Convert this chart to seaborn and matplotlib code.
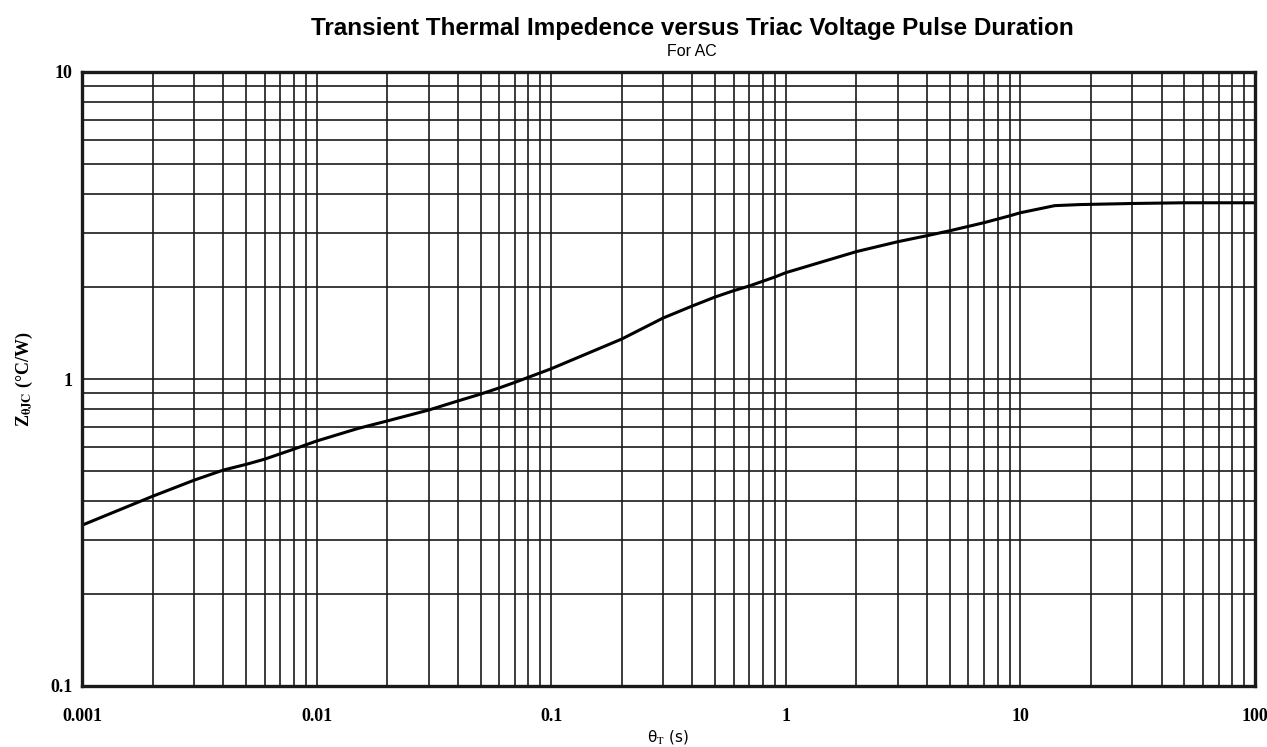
import matplotlib
matplotlib.use("Agg")
import matplotlib.pyplot as plt
import matplotlib.ticker as mticker
import seaborn as sns
import pandas as pd

# pulse duration (s) and thermal impedance (degC/W)
pulse_s = [0.001, 0.002, 0.003, 0.004, 0.005, 0.006, 0.008, 0.01, 0.015, 0.02,
           0.03, 0.04, 0.05, 0.06, 0.07, 0.1, 0.2, 0.3, 0.4, 0.5,
           0.6, 0.7, 0.9, 1, 2, 3, 4, 5, 7, 9,
           10, 14, 18, 30, 50, 100]
z_thjc = [0.334, 0.415, 0.468, 0.505, 0.527, 0.548, 0.591, 0.628, 0.690, 0.730,
          0.792, 0.848, 0.893, 0.935, 0.975, 1.08, 1.35, 1.58, 1.73, 1.85,
          1.94, 2.01, 2.15, 2.22, 2.60, 2.80, 2.93, 3.04, 3.23, 3.40,
          3.48, 3.67, 3.70, 3.73, 3.75, 3.75]

x_ticks = [0.001, 0.01, 0.1, 1, 10, 100]
x_labels = ["0.001", "0.01", "0.1", "1", "10", "100"]
y_ticks = [0.1, 1, 10]
y_labels = ["0.1", "1", "10"]

df = pd.DataFrame({"t": pulse_s, "z": z_thjc})

sns.set_theme(style="white")
plt.rcParams["font.family"] = ["Liberation Sans", "DejaVu Sans"]
plt.rcParams["mathtext.fontset"] = "stix"
plt.rcParams["text.color"] = "black"
plt.rcParams["axes.labelcolor"] = "black"
plt.rcParams["xtick.color"] = "black"
plt.rcParams["ytick.color"] = "black"

fig = plt.figure(figsize=(12.67, 7.47), dpi=100)
ax = fig.add_axes([82 / 1267, 1 - 686 / 747, (1255 - 82) / 1267, (686 - 72) / 747])

sns.lineplot(data=df, x="t", y="z", color="black", linewidth=2.2, ax=ax)

ax.set_xscale("log")
ax.set_yscale("log")
ax.set_xlim(0.001, 100)
ax.set_ylim(0.1, 10)

ax.xaxis.set_major_locator(mticker.FixedLocator(x_ticks))
ax.xaxis.set_major_formatter(mticker.FixedFormatter(x_labels))
ax.yaxis.set_major_locator(mticker.FixedLocator(y_ticks))
ax.yaxis.set_major_formatter(mticker.FixedFormatter(y_labels))
ax.xaxis.set_minor_locator(mticker.LogLocator(base=10, subs=range(2, 10)))
ax.yaxis.set_minor_locator(mticker.LogLocator(base=10, subs=range(2, 10)))
ax.xaxis.set_minor_formatter(mticker.NullFormatter())
ax.yaxis.set_minor_formatter(mticker.NullFormatter())

ax.grid(True, which="both", color="#1a1a1a", linewidth=1.2)
ax.tick_params(which="both", length=0)
ax.tick_params(axis="x", pad=16)
ax.tick_params(axis="y", pad=7)
for lab in ax.get_xticklabels() + ax.get_yticklabels():
    lab.set_family(["Liberation Serif", "DejaVu Serif"])
    lab.set_fontweight("bold")
    lab.set_fontsize(13)

for sp in ax.spines.values():
    sp.set_color("#1a1a1a")
    sp.set_linewidth(2.4)

ax.set_xlabel("θ$_\\mathrm{T}$ (s)", fontsize=11, labelpad=2,
              family=["DejaVu Sans"])
ax.set_ylabel("Z$_{\\mathbf{\\theta JC}}$ (°C/W)", fontsize=13, fontweight="bold",
              family=["Liberation Serif", "DejaVu Serif"], labelpad=11)

fig.text(692 / 1267, 1 - 28 / 747, "Transient Thermal Impedence versus Triac Voltage Pulse Duration",
         ha="center", va="center", fontsize=17.5, fontweight="bold")
fig.text(692 / 1267, 1 - 51 / 747, "For AC", ha="center", va="center", fontsize=11.5)

fig.savefig("out.png", dpi=100, facecolor="white")
